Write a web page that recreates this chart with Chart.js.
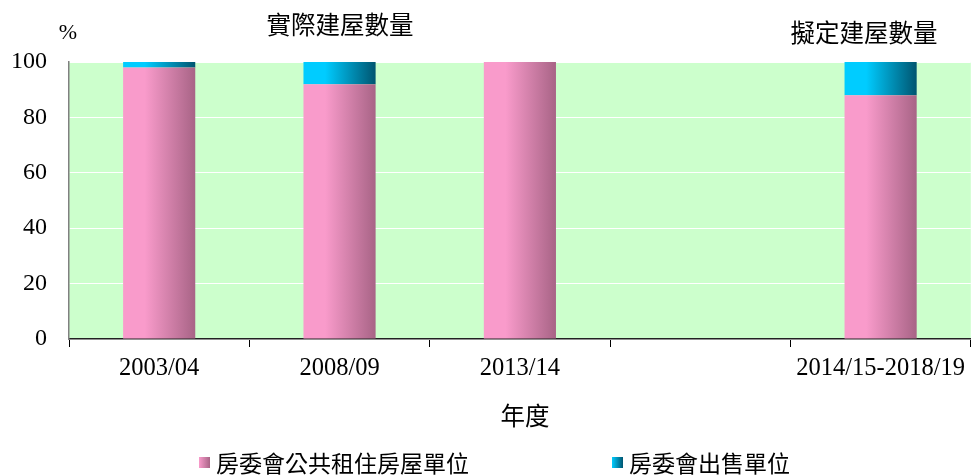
<!DOCTYPE html>
<html>
<head>
<meta charset="utf-8">
<script src="https://cdn.jsdelivr.net/npm/chart.js@4.4.1/dist/chart.umd.min.js"></script>
<style>
  body { margin: 0; background: #fff; }
  #wrap { width: 972px; height: 475px; }
</style>
</head>
<body>
<div id="wrap"><canvas id="housingChart"></canvas></div>
<script>
// data (percent of flats)
var years = ['2003/04', '2008/09', '2013/14', '', '2014/15-2018/19'];
var rentalShare = [98, 92, 100, null, 88];
var saleShare = [2, 8, 0, null, 12];
var yTicks = [0, 20, 40, 60, 80, 100];

var serif = '"Liberation Serif", "DejaVu Serif", serif';
var cjk = '"Noto Sans CJK TC", "Noto Sans CJK SC", sans-serif';

// horizontal gradient across one bar, worked out from the x scale
function barGradient(from, to) {
  return function (ctx) {
    var chart = ctx.chart;
    var xs = chart.scales.x;
    if (!xs || !chart.chartArea) return from;
    var cx = xs.getPixelForValue(ctx.dataIndex);
    var w = (xs.width / years.length) * 0.4;
    var g = chart.ctx.createLinearGradient(cx - w / 2, 0, cx + w / 2, 0);
    g.addColorStop(0, from);
    g.addColorStop(0.3, from);
    g.addColorStop(1, to);
    return g;
  };
}

var plotBackground = {
  id: 'plotBackground',
  beforeDraw: function (chart) {
    var a = chart.chartArea, c = chart.ctx;
    c.save();
    c.fillStyle = '#CCFFCC';
    c.fillRect(a.left, a.top, a.right - a.left, a.bottom - a.top);
    c.restore();
  }
};

var labels = {
  id: 'labels',
  afterDraw: function (chart) {
    var c = chart.ctx;
    c.save();
    c.fillStyle = '#000';
    c.textBaseline = 'middle';
    c.textAlign = 'center';
    c.font = '22px ' + serif;
    c.fillText('%', 68, 33);
    c.font = '24.5px ' + cjk;
    c.fillText('實際建屋數量', 340, 25);
    c.fillText('擬定建屋數量', 864, 33);
    c.fillText('年度', 525, 416);

    // legend
    c.textAlign = 'left';
    c.font = '23px ' + cjk;
    var items = [
      { x: 199, text: '房委會公共租住房屋單位', from: '#F99BCB', to: '#A86486' },
      { x: 612, text: '房委會出售單位', from: '#00CCFF', to: '#005570' }
    ];
    items.forEach(function (it) {
      var g = c.createLinearGradient(it.x, 0, it.x + 11, 0);
      g.addColorStop(0, it.from);
      g.addColorStop(1, it.to);
      c.fillStyle = g;
      c.fillRect(it.x, 457, 11, 11);
      c.fillStyle = '#000';
      c.fillText(it.text, it.x + 17, 463);
    });
    c.restore();
  }
};

new Chart(document.getElementById('housingChart'), {
  type: 'bar',
  data: {
    labels: years,
    datasets: [
      {
        label: '房委會公共租住房屋單位',
        data: rentalShare,
        backgroundColor: barGradient('#F99BCB', '#A86486'),
        barPercentage: 0.4,
        categoryPercentage: 1
      },
      {
        label: '房委會出售單位',
        data: saleShare,
        backgroundColor: barGradient('#00CCFF', '#005570'),
        barPercentage: 0.4,
        categoryPercentage: 1
      }
    ]
  },
  options: {
    responsive: true,
    maintainAspectRatio: false,
    animation: false,
    layout: { padding: { top: 62, left: 0, right: 0, bottom: 0 } },
    plugins: {
      legend: { display: false },
      tooltip: { enabled: false }
    },
    scales: {
      x: {
        stacked: true,
        afterFit: function (s) { s.height = 136; },
        grid: {
          offset: true,
          drawOnChartArea: false,
          tickLength: 8,
          color: '#000'
        },
        border: { color: '#222', width: 1.5 },
        ticks: {
          color: '#000',
          padding: 7,
          maxRotation: 0,
          autoSkip: false,
          font: { family: serif, size: 24.5 }
        }
      },
      y: {
        stacked: true,
        min: 0,
        max: 100,
        afterFit: function (s) { s.width = 69; },
        afterBuildTicks: function (s) {
          s.ticks = yTicks.map(function (v) { return { value: v }; });
        },
        grid: {
          color: '#FFFFFF',
          lineWidth: 1,
          tickLength: 0
        },
        border: { color: '#808080', width: 1.5 },
        ticks: {
          color: '#000',
          padding: 22,
          font: { family: serif, size: 24 }
        }
      }
    }
  },
  plugins: [plotBackground, labels]
});
</script>
</body>
</html>
